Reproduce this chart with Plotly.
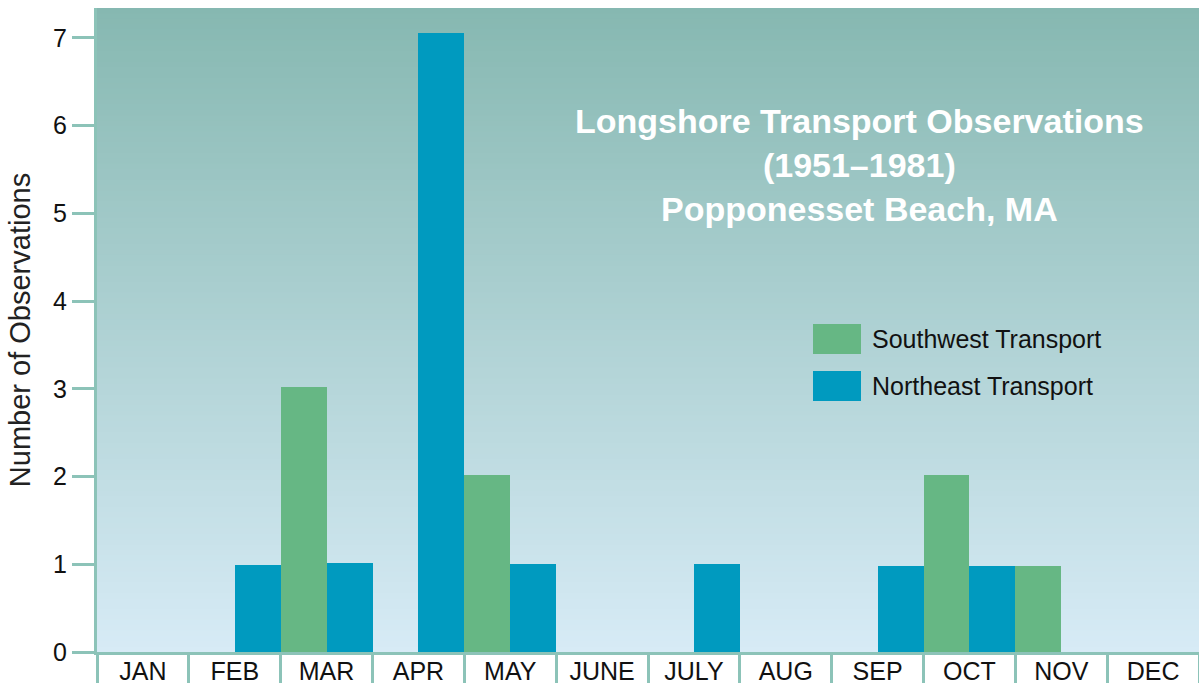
import plotly.graph_objects as go

months = ["JAN", "FEB", "MAR", "APR", "MAY", "JUNE", "JULY", "AUG", "SEP", "OCT", "NOV", "DEC"]
southwest = [0, 0, 3.02, 0, 2.02, 0, 0, 0, 0, 2.02, 0.98, 0]
northeast = [0, 0.99, 1.02, 7.05, 1.0, 0, 1.0, 0, 0.98, 0.98, 0, 0]
y_ticks = [0, 1, 2, 3, 4, 5, 6, 7]
series_names = ["Southwest Transport", "Northeast Transport"]
series_colors = ["#66b784", "#009abf"]
title_lines = ["Longshore Transport Observations", "(1951\u20131981)", "Popponesset Beach, MA"]

FONT = "Liberation Sans, Arial, Helvetica, sans-serif"
AXIS_COL = "#8cc3b8"

fig = go.Figure()
for name, vals, col in zip(series_names, [southwest, northeast], series_colors):
    fig.add_trace(go.Bar(x=months, y=vals, name=name, marker=dict(color=col, line=dict(width=0)),
                         showlegend=False))

# gradient background strips
def lerp(c1, c2, t):
    return "rgb(%d,%d,%d)" % tuple(round(a + (b - a) * t) for a, b in zip(c1, c2))

top_c = (0x86, 0xb8, 0xb1)
bot_c = (0xd7, 0xeb, 0xf6)
N = 120
shapes = []
for i in range(N):
    y0 = i / N
    y1 = (i + 1) / N + 0.002
    t = (i + 0.5) / N
    shapes.append(dict(type="rect", xref="paper", yref="paper", x0=0, x1=1, y0=y0, y1=min(y1, 1),
                       fillcolor=lerp(bot_c, top_c, t), line=dict(width=0), layer="below"))

# custom legend
annotations = []
leg_x0, leg_x1 = 813, 861
leg_rows = [(324, 354), (371, 401)]
W, H = 1199, 690
ml, mr, mt, mb = 97, 0, 8, 38
pw, ph = W - ml - mr, H - mt - mb
def px_to_paper_x(px):
    return (px - ml) / pw
def px_to_paper_y(py):
    return 1 - (py - mt) / ph
for (ya, yb), name, col in zip(leg_rows, series_names, series_colors):
    shapes.append(dict(type="rect", xref="paper", yref="paper",
                       x0=px_to_paper_x(leg_x0), x1=px_to_paper_x(leg_x1),
                       y0=px_to_paper_y(yb), y1=px_to_paper_y(ya),
                       fillcolor=col, line=dict(width=0), layer="above"))
    annotations.append(dict(xref="paper", yref="paper", x=px_to_paper_x(870), y=px_to_paper_y((ya + yb) / 2),
                            text=name, showarrow=False, xanchor="left", yanchor="middle",
                            font=dict(family=FONT, size=25, color="#111111")))

annotations.append(dict(xref="paper", yref="paper", x=px_to_paper_x(859), y=px_to_paper_y(165),
                        text="<b>" + "<br>".join(title_lines) + "</b>", showarrow=False,
                        xanchor="center", yanchor="middle", align="center",
                        font=dict(family=FONT, size=34, color="white")))

fig.update_layout(
    width=W, height=H,
    margin=dict(l=ml, r=mr, t=mt, b=mb),
    paper_bgcolor="white", plot_bgcolor="#c0dde0",
    barmode="group", bargap=0, bargroupgap=0,
    shapes=shapes, annotations=annotations,
    font=dict(family=FONT, size=20, color="#222222"),
)
fig.update_xaxes(
    type="category", tickson="boundaries", ticks="outside", ticklen=28, tickwidth=3,
    tickcolor=AXIS_COL, showline=True, linecolor=AXIS_COL, linewidth=3,
    showgrid=False, zeroline=False, ticklabelstandoff=-5,
    tickfont=dict(family=FONT, size=25, color="#111111"), automargin=False,
)
fig.update_yaxes(
    range=[0, 7.34], tickvals=y_ticks, ticks="outside", ticklen=22, tickwidth=3,
    tickcolor=AXIS_COL, showline=True, linecolor=AXIS_COL, linewidth=3,
    showgrid=False, zeroline=False,
    tickfont=dict(family=FONT, size=25, color="#111111"),
    title=dict(text="Number of Observations", standoff=14, font=dict(family=FONT, size=29, color="#222222")),
    automargin=False,
)
fig.write_html("out.html", config={"displayModeBar": False},
               post_script="document.body.style.margin='0px';")
